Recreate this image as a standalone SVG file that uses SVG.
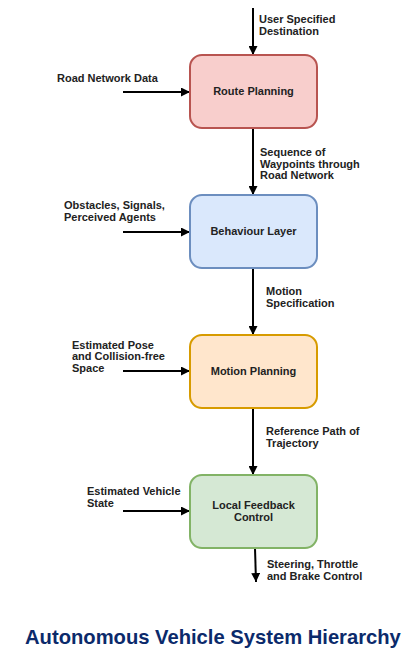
<svg xmlns="http://www.w3.org/2000/svg" width="409" height="650" viewBox="0 0 409 650">
<defs>
<marker id="ah" viewBox="0 0 10 10" refX="10" refY="5" markerWidth="4.5" markerHeight="4.5" orient="auto" markerUnits="strokeWidth">
<path d="M0,0 L10,5 L0,10 z" fill="#000"/>
</marker>
<style>
.lbl{font-family:"Liberation Sans",Arial,sans-serif;font-size:11px;font-weight:bold;fill:#222}
.node{font-family:"Liberation Sans",Arial,sans-serif;font-size:11px;font-weight:bold;fill:#222;text-anchor:middle}
.con{stroke:#000;stroke-width:2;fill:none;marker-end:url(#ah)}
.box{stroke-width:2}
.title{font-family:"Liberation Sans",Arial,sans-serif;font-size:20.2px;font-weight:bold;fill:#0b2a6b}
</style>
</defs>
<rect width="409" height="650" fill="#fff"/>
<g id="connectors">
<line class="con" x1="253" y1="8" x2="253" y2="55"/>
<line class="con" x1="123" y1="92" x2="190" y2="92"/>
<line class="con" x1="253" y1="128" x2="253" y2="195"/>
<line class="con" x1="123" y1="232" x2="190" y2="232"/>
<line class="con" x1="253" y1="268" x2="253" y2="335"/>
<line class="con" x1="123" y1="371" x2="190" y2="371"/>
<line class="con" x1="253" y1="408" x2="253" y2="475"/>
<line class="con" x1="123" y1="511" x2="190" y2="511"/>
<line class="con" x1="255" y1="548" x2="256" y2="582"/>
</g>
<g id="labels">
<text class="lbl" x="259" y="22.5">User Specified</text>
<text class="lbl" x="259" y="34.5">Destination</text>
<text class="lbl" x="57" y="82">Road Network Data</text>
<text class="lbl" x="260" y="156">Sequence of</text>
<text class="lbl" x="260" y="167.5">Waypoints through</text>
<text class="lbl" x="260" y="179">Road Network</text>
<text class="lbl" x="64" y="209">Obstacles, Signals,</text>
<text class="lbl" x="64" y="220.5">Perceived Agents</text>
<text class="lbl" x="266" y="295">Motion</text>
<text class="lbl" x="266" y="307">Specification</text>
<text class="lbl" x="72" y="348.5">Estimated Pose</text>
<text class="lbl" x="72" y="360">and Collision-free</text>
<text class="lbl" x="72" y="372">Space</text>
<text class="lbl" x="266" y="435">Reference Path of</text>
<text class="lbl" x="266" y="447">Trajectory</text>
<text class="lbl" x="87" y="495">Estimated Vehicle</text>
<text class="lbl" x="87" y="507">State</text>
<text class="lbl" x="267" y="568">Steering, Throttle</text>
<text class="lbl" x="267" y="580">and Brake Control</text>
</g>
<g id="route-planning">
<rect class="box" x="190" y="55" width="127" height="73" rx="12" fill="#f8cecc" stroke="#b85450"/>
<text class="node" x="253.5" y="95">Route Planning</text>
</g>
<g id="behaviour-layer">
<rect class="box" x="190" y="195" width="127" height="73" rx="12" fill="#dae8fc" stroke="#6c8ebf"/>
<text class="node" x="253.5" y="235">Behaviour Layer</text>
</g>
<g id="motion-planning">
<rect class="box" x="190" y="335" width="127" height="73" rx="12" fill="#ffe6cc" stroke="#d79b00"/>
<text class="node" x="253.5" y="375">Motion Planning</text>
</g>
<g id="local-feedback-control">
<rect class="box" x="190" y="475" width="127" height="73" rx="12" fill="#d5e8d4" stroke="#82b366"/>
<text class="node" x="253.5" y="508.5">Local Feedback</text>
<text class="node" x="253.5" y="521">Control</text>
</g>
<text class="title" x="25" y="644">Autonomous Vehicle System Hierarchy</text>
</svg>
